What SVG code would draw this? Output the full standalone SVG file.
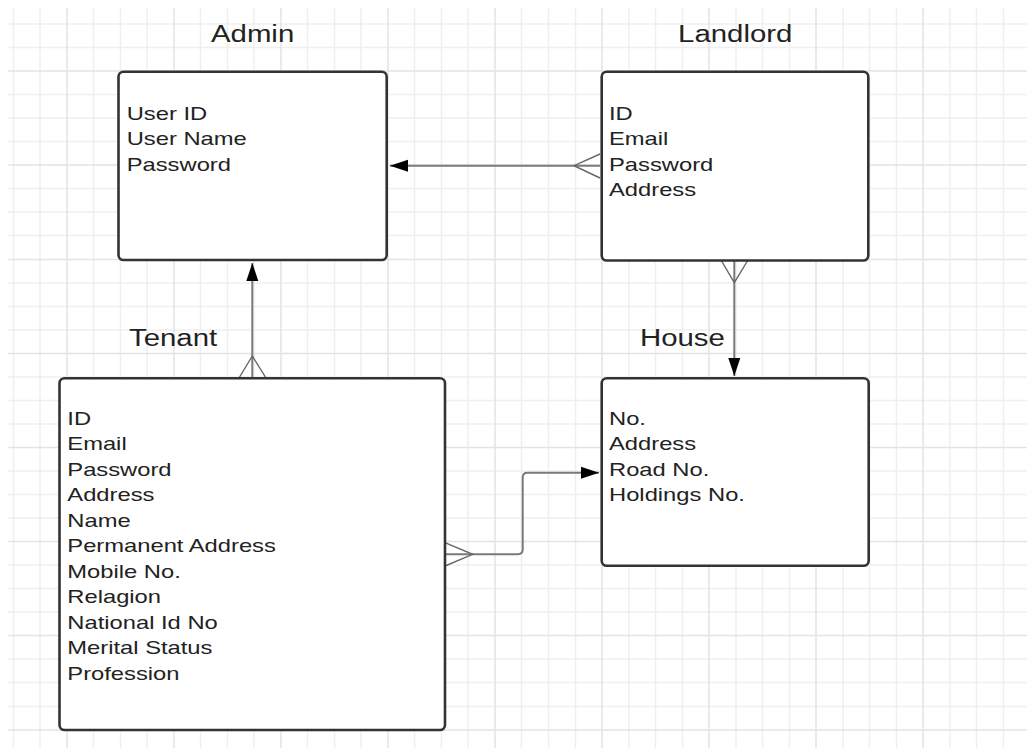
<svg xmlns="http://www.w3.org/2000/svg" width="1027" height="748" viewBox="0 0 1027 748">
<style>
.minor{stroke:#efefef;stroke-width:1.5;fill:none}
.major{stroke:#e4e4e4;stroke-width:1.5;fill:none}
.box{fill:#ffffff;stroke:#333333;stroke-width:2.6}
.title{font-family:"Liberation Sans",Arial,sans-serif;font-size:23.5px;fill:#222222}
.attr{font-family:"Liberation Sans",Arial,sans-serif;font-size:19px;fill:#222222}
.conn{stroke:#7a7a7a;stroke-width:2;fill:none}
.crow{stroke:#666666;stroke-width:1.4;fill:none}
</style>
<defs>
<marker id="arrow" markerUnits="userSpaceOnUse" markerWidth="20" markerHeight="14" refX="18" refY="6.5" orient="auto">
<path d="M0,0.5 L18,6.5 L0,12.5 Z" fill="#000000"/>
</marker>
</defs>
<rect x="0" y="0" width="1027" height="748" fill="#ffffff"/>
<g id="grid">
<path class="minor" d="M13.5,8V748M40,8V748M93.5,8V748M120.5,8V748M147,8V748M200.5,8V748M227.5,8V748M254,8V748M307.5,8V748M334.5,8V748M361,8V748M414.5,8V748M441.5,8V748M468,8V748M521.5,8V748M548.5,8V748M575.5,8V748M629,8V748M655.5,8V748M682.5,8V748M736,8V748M762.5,8V748M789.5,8V748M843,8V748M869.5,8V748M896.5,8V748M950,8V748M976.5,8V748M1003.5,8V748
M8,24H1027M8,47.5H1027M8,94.5H1027M8,118H1027M8,141.5H1027M8,188.5H1027M8,212H1027M8,235.5H1027M8,283H1027M8,306.5H1027M8,330H1027M8,377H1027M8,400.5H1027M8,424H1027M8,471H1027M8,494.5H1027M8,518H1027M8,565H1027M8,588.5H1027M8,612H1027M8,659H1027M8,682.5H1027M8,706.5H1027"/>
<path class="major" d="M67,8V748M174,8V748M281,8V748M388,8V748M495,8V748M602,8V748M709,8V748M816,8V748M923,8V748
M8,71H1027M8,165H1027M8,259.5H1027M8,353.5H1027M8,447.5H1027M8,541.5H1027M8,635.5H1027M8,730H1027"/>
</g>
<g id="connectors">
<path class="conn" d="M600,165.7 H390" marker-end="url(#arrow)"/>
<path class="crow" d="M600,154 L574,165.7 L600,178"/>
<path class="conn" d="M252.3,378 V263" marker-end="url(#arrow)"/>
<path class="crow" d="M239,378 L252.3,356 L266,378"/>
<path class="conn" d="M734.3,260 V376" marker-end="url(#arrow)"/>
<path class="crow" d="M721,260 L734.3,282.7 L748,260"/>
<path class="conn" d="M445,554.3 H518 Q522.7,554.3 522.7,549.6 V477.4 Q522.7,472.7 527.4,472.7 H599" marker-end="url(#arrow)"/>
<path class="crow" d="M445,542.7 L472.7,554.3 L445,566"/>
</g>
<g id="admin">
<rect class="box" x="118.5" y="71.7" width="268.2" height="188.3" rx="5"/>
<g transform="translate(252.6,41.7) scale(1.25,1)"><text class="title" x="0" y="0" text-anchor="middle">Admin</text></g>
<g transform="translate(126.7,120) scale(1.25,1)"><text class="attr" x="0" y="0"><tspan x="0" dy="0">User ID</tspan><tspan x="0" dy="25.4">User Name</tspan><tspan x="0" dy="25.4">Password</tspan></text></g>
</g>
<g id="landlord">
<rect class="box" x="601.7" y="71.7" width="266.6" height="188.8" rx="5"/>
<g transform="translate(735.2,41.7) scale(1.25,1)"><text class="title" x="0" y="0" text-anchor="middle">Landlord</text></g>
<g transform="translate(609,120) scale(1.25,1)"><text class="attr" x="0" y="0"><tspan x="0" dy="0">ID</tspan><tspan x="0" dy="25.4">Email</tspan><tspan x="0" dy="25.4">Password</tspan><tspan x="0" dy="25.4">Address</tspan></text></g>
</g>
<g id="tenant">
<rect class="box" x="59.5" y="378.3" width="385.5" height="351.7" rx="5"/>
<g transform="translate(129,346) scale(1.25,1)"><text class="title" x="0" y="0">Tenant</text></g>
<g transform="translate(67.3,425) scale(1.25,1)"><text class="attr" x="0" y="0"><tspan x="0" dy="0">ID</tspan><tspan x="0" dy="25.5">Email</tspan><tspan x="0" dy="25.5">Password</tspan><tspan x="0" dy="25.5">Address</tspan><tspan x="0" dy="25.5">Name</tspan><tspan x="0" dy="25.5">Permanent Address</tspan><tspan x="0" dy="25.5">Mobile No.</tspan><tspan x="0" dy="25.5">Relagion</tspan><tspan x="0" dy="25.5">National Id No</tspan><tspan x="0" dy="25.5">Merital Status</tspan><tspan x="0" dy="25.5">Profession</tspan></text></g>
</g>
<g id="house">
<rect class="box" x="601.7" y="378.3" width="267" height="187.4" rx="5"/>
<g transform="translate(640,346) scale(1.25,1)"><text class="title" x="0" y="0">House</text></g>
<g transform="translate(609,425) scale(1.25,1)"><text class="attr" x="0" y="0"><tspan x="0" dy="0">No.</tspan><tspan x="0" dy="25.5">Address</tspan><tspan x="0" dy="25.5">Road No.</tspan><tspan x="0" dy="25.5">Holdings No.</tspan></text></g>
</g>
</svg>
